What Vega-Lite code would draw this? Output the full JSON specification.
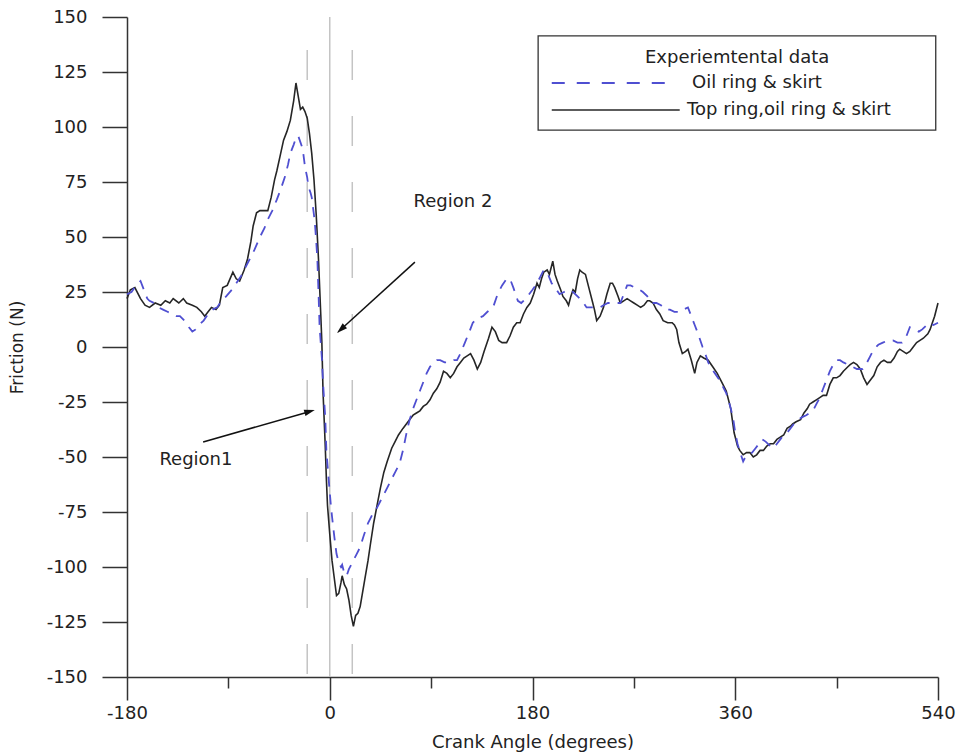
{
  "$schema": "https://vega.github.io/schema/vega-lite/v6.json",
  "width": 811,
  "height": 660,
  "autosize": "none",
  "padding": {"left": 127, "top": 17, "right": 21, "bottom": 75},
  "background": "white",
  "config": {
    "view": {"stroke": null},
    "axis": {
      "grid": false,
      "domainColor": "#333333",
      "domainWidth": 1.5,
      "tickColor": "#333333",
      "tickWidth": 1.5,
      "labelFont": "DejaVu Sans",
      "labelFontSize": 18,
      "labelColor": "#222222",
      "titleFont": "DejaVu Sans",
      "titleFontWeight": "normal",
      "titleColor": "#222222"
    }
  },
  "datasets": {
    "top": [
      {"angle": -180, "friction": 22}, {"angle": -177, "friction": 26}, {"angle": -173, "friction": 27}, {"angle": -168, "friction": 22},
      {"angle": -164, "friction": 19}, {"angle": -160, "friction": 18}, {"angle": -155, "friction": 20}, {"angle": -150, "friction": 19},
      {"angle": -146, "friction": 21}, {"angle": -142, "friction": 20}, {"angle": -139, "friction": 22}, {"angle": -134, "friction": 20},
      {"angle": -130, "friction": 22}, {"angle": -127, "friction": 20}, {"angle": -122, "friction": 19}, {"angle": -118, "friction": 18},
      {"angle": -114, "friction": 16}, {"angle": -111, "friction": 14}, {"angle": -108, "friction": 16}, {"angle": -105, "friction": 18},
      {"angle": -101, "friction": 17}, {"angle": -98, "friction": 19}, {"angle": -95, "friction": 27}, {"angle": -91, "friction": 28},
      {"angle": -86, "friction": 34}, {"angle": -83, "friction": 31}, {"angle": -80, "friction": 30}, {"angle": -76, "friction": 35},
      {"angle": -73, "friction": 40}, {"angle": -70, "friction": 48}, {"angle": -68, "friction": 55}, {"angle": -65, "friction": 61},
      {"angle": -62, "friction": 62}, {"angle": -58, "friction": 62}, {"angle": -55, "friction": 62}, {"angle": -52, "friction": 68},
      {"angle": -49, "friction": 76}, {"angle": -47, "friction": 80}, {"angle": -44, "friction": 87}, {"angle": -41, "friction": 94},
      {"angle": -38, "friction": 98}, {"angle": -35, "friction": 103}, {"angle": -32, "friction": 112}, {"angle": -30, "friction": 120},
      {"angle": -28, "friction": 114}, {"angle": -26, "friction": 108}, {"angle": -24, "friction": 109}, {"angle": -22, "friction": 107},
      {"angle": -20, "friction": 104}, {"angle": -18, "friction": 97}, {"angle": -16, "friction": 88}, {"angle": -14, "friction": 76},
      {"angle": -12, "friction": 60}, {"angle": -10, "friction": 40}, {"angle": -8, "friction": 15}, {"angle": -7, "friction": 2},
      {"angle": -6, "friction": -20}, {"angle": -4, "friction": -45}, {"angle": -3, "friction": -60}, {"angle": -2, "friction": -72},
      {"angle": 0, "friction": -85}, {"angle": 2, "friction": -97}, {"angle": 4, "friction": -105}, {"angle": 6, "friction": -113},
      {"angle": 8, "friction": -112}, {"angle": 10, "friction": -107}, {"angle": 11, "friction": -104}, {"angle": 13, "friction": -108},
      {"angle": 15, "friction": -110}, {"angle": 17, "friction": -115}, {"angle": 19, "friction": -122}, {"angle": 21, "friction": -127},
      {"angle": 23, "friction": -122}, {"angle": 25, "friction": -121}, {"angle": 27, "friction": -118}, {"angle": 29, "friction": -112},
      {"angle": 31, "friction": -106}, {"angle": 34, "friction": -97}, {"angle": 36, "friction": -90}, {"angle": 39, "friction": -80},
      {"angle": 42, "friction": -72}, {"angle": 45, "friction": -64}, {"angle": 48, "friction": -57}, {"angle": 51, "friction": -52},
      {"angle": 55, "friction": -46}, {"angle": 58, "friction": -43}, {"angle": 61, "friction": -40}, {"angle": 65, "friction": -37},
      {"angle": 68, "friction": -35}, {"angle": 71, "friction": -33}, {"angle": 74, "friction": -31}, {"angle": 77, "friction": -30},
      {"angle": 80, "friction": -29}, {"angle": 83, "friction": -27}, {"angle": 86, "friction": -26}, {"angle": 89, "friction": -24},
      {"angle": 92, "friction": -21}, {"angle": 95, "friction": -19}, {"angle": 98, "friction": -16}, {"angle": 101, "friction": -11},
      {"angle": 104, "friction": -12}, {"angle": 107, "friction": -14}, {"angle": 110, "friction": -12}, {"angle": 113, "friction": -9},
      {"angle": 116, "friction": -7}, {"angle": 119, "friction": -5}, {"angle": 122, "friction": -4}, {"angle": 125, "friction": -3},
      {"angle": 128, "friction": -6}, {"angle": 131, "friction": -10}, {"angle": 134, "friction": -7}, {"angle": 137, "friction": -2},
      {"angle": 141, "friction": 4}, {"angle": 144, "friction": 9}, {"angle": 147, "friction": 7}, {"angle": 150, "friction": 3},
      {"angle": 153, "friction": 2}, {"angle": 157, "friction": 2}, {"angle": 160, "friction": 5}, {"angle": 163, "friction": 9},
      {"angle": 166, "friction": 11}, {"angle": 169, "friction": 11}, {"angle": 172, "friction": 15}, {"angle": 175, "friction": 18},
      {"angle": 178, "friction": 20}, {"angle": 181, "friction": 24}, {"angle": 184, "friction": 29}, {"angle": 186, "friction": 27},
      {"angle": 188, "friction": 31}, {"angle": 190, "friction": 34}, {"angle": 193, "friction": 35}, {"angle": 195, "friction": 33},
      {"angle": 198, "friction": 39}, {"angle": 200, "friction": 33}, {"angle": 202, "friction": 30}, {"angle": 205, "friction": 26},
      {"angle": 207, "friction": 23}, {"angle": 210, "friction": 21}, {"angle": 212, "friction": 19}, {"angle": 214, "friction": 23},
      {"angle": 216, "friction": 26}, {"angle": 218, "friction": 25}, {"angle": 220, "friction": 31}, {"angle": 222, "friction": 35},
      {"angle": 224, "friction": 34}, {"angle": 227, "friction": 33}, {"angle": 230, "friction": 27}, {"angle": 233, "friction": 21},
      {"angle": 235, "friction": 17}, {"angle": 237, "friction": 12}, {"angle": 240, "friction": 14}, {"angle": 243, "friction": 18},
      {"angle": 246, "friction": 24}, {"angle": 249, "friction": 29}, {"angle": 251, "friction": 29}, {"angle": 253, "friction": 27},
      {"angle": 256, "friction": 23}, {"angle": 258, "friction": 20}, {"angle": 261, "friction": 21}, {"angle": 264, "friction": 22},
      {"angle": 267, "friction": 21}, {"angle": 270, "friction": 20}, {"angle": 273, "friction": 19}, {"angle": 276, "friction": 18},
      {"angle": 279, "friction": 19}, {"angle": 282, "friction": 21}, {"angle": 284, "friction": 21}, {"angle": 287, "friction": 20},
      {"angle": 290, "friction": 17}, {"angle": 293, "friction": 15}, {"angle": 296, "friction": 12}, {"angle": 300, "friction": 11},
      {"angle": 304, "friction": 11}, {"angle": 306, "friction": 10}, {"angle": 308, "friction": 8}, {"angle": 310, "friction": 2},
      {"angle": 313, "friction": -3}, {"angle": 316, "friction": -2}, {"angle": 318, "friction": -1}, {"angle": 321, "friction": -6},
      {"angle": 324, "friction": -12}, {"angle": 326, "friction": -7}, {"angle": 329, "friction": -4}, {"angle": 332, "friction": -5},
      {"angle": 336, "friction": -6}, {"angle": 340, "friction": -9}, {"angle": 344, "friction": -12}, {"angle": 348, "friction": -16},
      {"angle": 352, "friction": -20}, {"angle": 356, "friction": -28}, {"angle": 359, "friction": -39}, {"angle": 362, "friction": -45},
      {"angle": 364, "friction": -47}, {"angle": 367, "friction": -49}, {"angle": 370, "friction": -48}, {"angle": 373, "friction": -48},
      {"angle": 376, "friction": -50}, {"angle": 379, "friction": -49}, {"angle": 382, "friction": -47}, {"angle": 385, "friction": -47},
      {"angle": 388, "friction": -45}, {"angle": 391, "friction": -44}, {"angle": 394, "friction": -44}, {"angle": 397, "friction": -42},
      {"angle": 400, "friction": -41}, {"angle": 403, "friction": -40}, {"angle": 406, "friction": -37}, {"angle": 409, "friction": -36},
      {"angle": 411, "friction": -35}, {"angle": 414, "friction": -34}, {"angle": 418, "friction": -33}, {"angle": 421, "friction": -30},
      {"angle": 424, "friction": -28}, {"angle": 426, "friction": -26}, {"angle": 429, "friction": -25}, {"angle": 432, "friction": -24},
      {"angle": 435, "friction": -23}, {"angle": 438, "friction": -22}, {"angle": 441, "friction": -22}, {"angle": 444, "friction": -17},
      {"angle": 447, "friction": -14}, {"angle": 450, "friction": -14}, {"angle": 453, "friction": -13}, {"angle": 456, "friction": -11},
      {"angle": 460, "friction": -9}, {"angle": 462, "friction": -8}, {"angle": 465, "friction": -7}, {"angle": 468, "friction": -8},
      {"angle": 471, "friction": -10}, {"angle": 474, "friction": -14}, {"angle": 477, "friction": -17}, {"angle": 480, "friction": -15},
      {"angle": 483, "friction": -13}, {"angle": 486, "friction": -9}, {"angle": 489, "friction": -7}, {"angle": 492, "friction": -6},
      {"angle": 495, "friction": -7}, {"angle": 498, "friction": -7}, {"angle": 501, "friction": -5}, {"angle": 504, "friction": -2},
      {"angle": 506, "friction": -1}, {"angle": 509, "friction": -2}, {"angle": 512, "friction": -3}, {"angle": 515, "friction": -2},
      {"angle": 518, "friction": 0}, {"angle": 521, "friction": 2}, {"angle": 524, "friction": 3}, {"angle": 527, "friction": 4},
      {"angle": 531, "friction": 6}, {"angle": 533, "friction": 8}, {"angle": 535, "friction": 11}, {"angle": 537, "friction": 14},
      {"angle": 540, "friction": 20}
    ],
    "oil": [
      {"angle": -180, "friction": 24}, {"angle": -176, "friction": 25}, {"angle": -172, "friction": 28}, {"angle": -168, "friction": 30},
      {"angle": -165, "friction": 26}, {"angle": -162, "friction": 22}, {"angle": -160, "friction": 21}, {"angle": -156, "friction": 20},
      {"angle": -152, "friction": 18}, {"angle": -148, "friction": 17}, {"angle": -144, "friction": 16}, {"angle": -140, "friction": 15},
      {"angle": -136, "friction": 14}, {"angle": -133, "friction": 14}, {"angle": -129, "friction": 12}, {"angle": -125, "friction": 9},
      {"angle": -122, "friction": 7}, {"angle": -119, "friction": 8}, {"angle": -116, "friction": 10}, {"angle": -112, "friction": 12},
      {"angle": -108, "friction": 15}, {"angle": -104, "friction": 17}, {"angle": -100, "friction": 18}, {"angle": -96, "friction": 21},
      {"angle": -92, "friction": 23}, {"angle": -87, "friction": 26}, {"angle": -83, "friction": 29}, {"angle": -79, "friction": 32},
      {"angle": -75, "friction": 36}, {"angle": -71, "friction": 40}, {"angle": -67, "friction": 44}, {"angle": -62, "friction": 50},
      {"angle": -58, "friction": 54}, {"angle": -55, "friction": 58}, {"angle": -51, "friction": 62}, {"angle": -47, "friction": 67},
      {"angle": -44, "friction": 71}, {"angle": -40, "friction": 77}, {"angle": -37, "friction": 83}, {"angle": -35, "friction": 88},
      {"angle": -32, "friction": 92}, {"angle": -30, "friction": 95}, {"angle": -28, "friction": 96}, {"angle": -26, "friction": 93},
      {"angle": -24, "friction": 90}, {"angle": -22, "friction": 82}, {"angle": -20, "friction": 77}, {"angle": -19, "friction": 73},
      {"angle": -17, "friction": 70}, {"angle": -16, "friction": 68}, {"angle": -14, "friction": 60}, {"angle": -13, "friction": 55},
      {"angle": -12, "friction": 48}, {"angle": -11, "friction": 40}, {"angle": -10, "friction": 25}, {"angle": -9, "friction": 9},
      {"angle": -7, "friction": -5}, {"angle": -6, "friction": -16}, {"angle": -4, "friction": -32}, {"angle": -3, "friction": -47},
      {"angle": -1, "friction": -60}, {"angle": 1, "friction": -72}, {"angle": 2, "friction": -77}, {"angle": 4, "friction": -86},
      {"angle": 6, "friction": -94}, {"angle": 8, "friction": -98}, {"angle": 10, "friction": -100}, {"angle": 11, "friction": -99},
      {"angle": 13, "friction": -103}, {"angle": 15, "friction": -104}, {"angle": 17, "friction": -101}, {"angle": 19, "friction": -99},
      {"angle": 21, "friction": -97}, {"angle": 24, "friction": -94}, {"angle": 27, "friction": -91}, {"angle": 30, "friction": -86},
      {"angle": 34, "friction": -80}, {"angle": 38, "friction": -76}, {"angle": 42, "friction": -73}, {"angle": 45, "friction": -70},
      {"angle": 47, "friction": -68}, {"angle": 51, "friction": -64}, {"angle": 55, "friction": -60}, {"angle": 58, "friction": -57},
      {"angle": 62, "friction": -53}, {"angle": 65, "friction": -47}, {"angle": 67, "friction": -42}, {"angle": 69, "friction": -37},
      {"angle": 71, "friction": -33}, {"angle": 74, "friction": -28}, {"angle": 77, "friction": -24}, {"angle": 80, "friction": -20},
      {"angle": 83, "friction": -16}, {"angle": 86, "friction": -12}, {"angle": 89, "friction": -9}, {"angle": 92, "friction": -7},
      {"angle": 95, "friction": -6}, {"angle": 98, "friction": -6}, {"angle": 102, "friction": -7}, {"angle": 106, "friction": -7},
      {"angle": 110, "friction": -6}, {"angle": 113, "friction": -6}, {"angle": 116, "friction": -3}, {"angle": 120, "friction": 2},
      {"angle": 124, "friction": 7}, {"angle": 127, "friction": 11}, {"angle": 131, "friction": 13}, {"angle": 136, "friction": 14},
      {"angle": 140, "friction": 16}, {"angle": 145, "friction": 18}, {"angle": 149, "friction": 24}, {"angle": 153, "friction": 28},
      {"angle": 157, "friction": 31}, {"angle": 160, "friction": 31}, {"angle": 163, "friction": 27}, {"angle": 167, "friction": 21},
      {"angle": 170, "friction": 20}, {"angle": 174, "friction": 22}, {"angle": 177, "friction": 24}, {"angle": 180, "friction": 26},
      {"angle": 184, "friction": 29}, {"angle": 187, "friction": 32}, {"angle": 190, "friction": 35}, {"angle": 193, "friction": 34},
      {"angle": 197, "friction": 29}, {"angle": 200, "friction": 27}, {"angle": 204, "friction": 24}, {"angle": 208, "friction": 25},
      {"angle": 212, "friction": 26}, {"angle": 216, "friction": 25}, {"angle": 220, "friction": 23}, {"angle": 224, "friction": 21},
      {"angle": 228, "friction": 18}, {"angle": 231, "friction": 18}, {"angle": 235, "friction": 18}, {"angle": 240, "friction": 18},
      {"angle": 243, "friction": 19}, {"angle": 247, "friction": 20}, {"angle": 251, "friction": 20}, {"angle": 255, "friction": 20},
      {"angle": 258, "friction": 20}, {"angle": 261, "friction": 24}, {"angle": 264, "friction": 28}, {"angle": 267, "friction": 28},
      {"angle": 271, "friction": 27}, {"angle": 275, "friction": 26}, {"angle": 278, "friction": 25}, {"angle": 282, "friction": 23},
      {"angle": 286, "friction": 20}, {"angle": 290, "friction": 20}, {"angle": 294, "friction": 19}, {"angle": 298, "friction": 17},
      {"angle": 302, "friction": 17}, {"angle": 306, "friction": 16}, {"angle": 311, "friction": 16}, {"angle": 314, "friction": 17},
      {"angle": 318, "friction": 18}, {"angle": 321, "friction": 14}, {"angle": 324, "friction": 10}, {"angle": 327, "friction": 6},
      {"angle": 331, "friction": 0}, {"angle": 334, "friction": -4}, {"angle": 336, "friction": -7}, {"angle": 339, "friction": -10},
      {"angle": 342, "friction": -12}, {"angle": 346, "friction": -15}, {"angle": 349, "friction": -18}, {"angle": 352, "friction": -21},
      {"angle": 355, "friction": -26}, {"angle": 358, "friction": -32}, {"angle": 360, "friction": -39}, {"angle": 362, "friction": -44},
      {"angle": 365, "friction": -49}, {"angle": 367, "friction": -52}, {"angle": 369, "friction": -50}, {"angle": 372, "friction": -49},
      {"angle": 375, "friction": -48}, {"angle": 378, "friction": -46}, {"angle": 381, "friction": -44}, {"angle": 384, "friction": -42},
      {"angle": 387, "friction": -43}, {"angle": 391, "friction": -45}, {"angle": 394, "friction": -46}, {"angle": 397, "friction": -44},
      {"angle": 400, "friction": -42}, {"angle": 403, "friction": -40}, {"angle": 406, "friction": -39}, {"angle": 409, "friction": -37},
      {"angle": 412, "friction": -35}, {"angle": 416, "friction": -33}, {"angle": 419, "friction": -32}, {"angle": 423, "friction": -31},
      {"angle": 426, "friction": -30}, {"angle": 429, "friction": -29}, {"angle": 432, "friction": -26}, {"angle": 435, "friction": -23},
      {"angle": 438, "friction": -19}, {"angle": 441, "friction": -15}, {"angle": 444, "friction": -11}, {"angle": 447, "friction": -8},
      {"angle": 450, "friction": -6}, {"angle": 453, "friction": -6}, {"angle": 456, "friction": -7}, {"angle": 460, "friction": -8},
      {"angle": 464, "friction": -9}, {"angle": 468, "friction": -10}, {"angle": 473, "friction": -10}, {"angle": 476, "friction": -8},
      {"angle": 480, "friction": -4}, {"angle": 483, "friction": -1}, {"angle": 487, "friction": 1}, {"angle": 491, "friction": 2},
      {"angle": 496, "friction": 3}, {"angle": 500, "friction": 3}, {"angle": 504, "friction": 2}, {"angle": 508, "friction": 2},
      {"angle": 512, "friction": 5}, {"angle": 515, "friction": 9}, {"angle": 519, "friction": 8}, {"angle": 523, "friction": 7},
      {"angle": 526, "friction": 8}, {"angle": 530, "friction": 10}, {"angle": 533, "friction": 11}, {"angle": 536, "friction": 10},
      {"angle": 540, "friction": 11}
    ]
  },
  "layer": [
    {
      "data": {"values": [{"angle": 0}]},
      "mark": {"type": "rule", "color": "#c4c4c4", "strokeWidth": 1.5},
      "encoding": {
        "x": {"field": "angle", "type": "quantitative"},
        "y": {"datum": 150, "type": "quantitative"},
        "y2": {"datum": -150}
      }
    },
    {
      "data": {"values": [{"angle": -20}, {"angle": 20}]},
      "mark": {"type": "rule", "color": "#c4c4c4", "strokeWidth": 1.5, "strokeDash": [30, 36]},
      "encoding": {
        "x": {"field": "angle", "type": "quantitative"},
        "y": {"datum": 135, "type": "quantitative"},
        "y2": {"datum": -150}
      }
    },
    {
      "data": {"name": "top"},
      "mark": {"type": "line", "color": "#262626", "strokeWidth": 1.6},
      "encoding": {
        "x": {
          "field": "angle",
          "type": "quantitative",
          "scale": {"domain": [-180, 540], "nice": false, "zero": false},
          "axis": {
            "values": [-180, -90, 0, 90, 180, 270, 360, 450, 540],
            "labelExpr": "datum.value % 180 === 0 ? (datum.value < 0 ? '-' : '') + abs(datum.value) : ''",
            "tickSize": {"condition": {"test": "datum.value % 180 === 0", "value": 23}, "value": 11},
            "labelPadding": 4,
            "labelFlush": false,
            "labelOverlap": false,
            "title": "Crank Angle (degrees)",
            "titleFontSize": 18,
            "titleX": 405.5,
            "titleY": 65,
            "titleAlign": "center",
            "titleBaseline": "middle"
          }
        },
        "y": {
          "field": "friction",
          "type": "quantitative",
          "scale": {"domain": [-150, 150], "nice": false, "zero": false},
          "axis": {
            "values": [-150, -137.5, -125, -112.5, -100, -87.5, -75, -62.5, -50, -37.5, -25, -12.5, 0, 12.5, 25, 37.5, 50, 62.5, 75, 87.5, 100, 112.5, 125, 137.5, 150],
            "labelExpr": "datum.value % 25 === 0 ? (datum.value < 0 ? '-' : '') + abs(datum.value) : ''",
            "tickSize": {"condition": {"test": "datum.value % 25 === 0", "value": 25}, "value": 12},
            "labelPadding": 15,
            "labelFlush": false,
            "labelOverlap": false,
            "title": "Friction (N)",
            "titleFontSize": 17,
            "titleX": -110,
            "titleY": 330,
            "titleAngle": 270,
            "titleAlign": "center",
            "titleBaseline": "middle"
          }
        }
      }
    },
    {
      "data": {"name": "oil"},
      "mark": {"type": "line", "color": "#4f4fd1", "strokeWidth": 1.8, "strokeDash": [10, 8]},
      "encoding": {
        "x": {"field": "angle", "type": "quantitative"},
        "y": {"field": "friction", "type": "quantitative"}
      }
    },
    {
      "data": {"values": [{}]},
      "mark": {"type": "rule", "color": "#111111", "strokeWidth": 1.5},
      "encoding": {
        "x": {"datum": 75.6, "type": "quantitative"},
        "y": {"datum": 38.6, "type": "quantitative"},
        "x2": {"datum": 10.3},
        "y2": {"datum": 8.2}
      }
    },
    {
      "data": {"values": [{}]},
      "mark": {"type": "point", "shape": "M0,-1L0.55,0.8L-0.55,0.8Z", "angle": 227.7, "size": 140, "filled": true, "color": "#111111", "opacity": 1},
      "encoding": {
        "x": {"datum": 10.3, "type": "quantitative"},
        "y": {"datum": 8.2, "type": "quantitative"}
      }
    },
    {
      "data": {"values": [{}]},
      "mark": {"type": "rule", "color": "#111111", "strokeWidth": 1.5},
      "encoding": {
        "x": {"datum": -112.4, "type": "quantitative"},
        "y": {"datum": -43.2, "type": "quantitative"},
        "x2": {"datum": -18.3},
        "y2": {"datum": -29.4}
      }
    },
    {
      "data": {"values": [{}]},
      "mark": {"type": "point", "shape": "M0,-1L0.55,0.8L-0.55,0.8Z", "angle": 74, "size": 140, "filled": true, "color": "#111111", "opacity": 1},
      "encoding": {
        "x": {"datum": -18.3, "type": "quantitative"},
        "y": {"datum": -29.4, "type": "quantitative"}
      }
    },
    {
      "data": {"values": [{"label": "Region 2"}]},
      "mark": {"type": "text", "font": "DejaVu Sans", "fontSize": 18, "color": "#222222", "align": "center", "baseline": "middle"},
      "encoding": {
        "x": {"datum": 109.4, "type": "quantitative"},
        "y": {"datum": 65.9, "type": "quantitative"},
        "text": {"field": "label"}
      }
    },
    {
      "data": {"values": [{"label": "Region1"}]},
      "mark": {"type": "text", "font": "DejaVu Sans", "fontSize": 18, "color": "#222222", "align": "center", "baseline": "middle"},
      "encoding": {
        "x": {"datum": -118.8, "type": "quantitative"},
        "y": {"datum": -51.4, "type": "quantitative"},
        "text": {"field": "label"}
      }
    },
    {
      "data": {"values": [{}]},
      "mark": {"type": "rect", "fill": "white", "stroke": "#333333", "strokeWidth": 1.3},
      "encoding": {
        "x": {"datum": 185, "type": "quantitative"},
        "x2": {"datum": 538},
        "y": {"datum": 141.4, "type": "quantitative"},
        "y2": {"datum": 98.6}
      }
    },
    {
      "data": {"values": [{"label": "Experiemtental data"}]},
      "mark": {"type": "text", "font": "DejaVu Sans", "fontSize": 18, "color": "#222222", "align": "center", "baseline": "middle"},
      "encoding": {
        "x": {"datum": 361.7, "type": "quantitative"},
        "y": {"datum": 131.4, "type": "quantitative"},
        "text": {"field": "label"}
      }
    },
    {
      "data": {"values": [{}]},
      "mark": {"type": "rule", "color": "#4f4fd1", "strokeWidth": 1.8, "strokeDash": [13, 12]},
      "encoding": {
        "x": {"datum": 197.1, "type": "quantitative"},
        "x2": {"datum": 299.2},
        "y": {"datum": 120, "type": "quantitative"}
      }
    },
    {
      "data": {"values": [{}]},
      "mark": {"type": "rule", "color": "#262626", "strokeWidth": 1.6},
      "encoding": {
        "x": {"datum": 197.1, "type": "quantitative"},
        "x2": {"datum": 310.7},
        "y": {"datum": 107.7, "type": "quantitative"}
      }
    },
    {
      "data": {"values": [{"label": "Oil ring & skirt"}]},
      "mark": {"type": "text", "font": "DejaVu Sans", "fontSize": 18, "color": "#222222", "align": "left", "baseline": "middle"},
      "encoding": {
        "x": {"datum": 321.6, "type": "quantitative"},
        "y": {"datum": 120, "type": "quantitative"},
        "text": {"field": "label"}
      }
    },
    {
      "data": {"values": [{"label": "Top ring,oil ring & skirt"}]},
      "mark": {"type": "text", "font": "DejaVu Sans", "fontSize": 18, "color": "#222222", "align": "left", "baseline": "middle"},
      "encoding": {
        "x": {"datum": 317.2, "type": "quantitative"},
        "y": {"datum": 107.7, "type": "quantitative"},
        "text": {"field": "label"}
      }
    }
  ]
}
